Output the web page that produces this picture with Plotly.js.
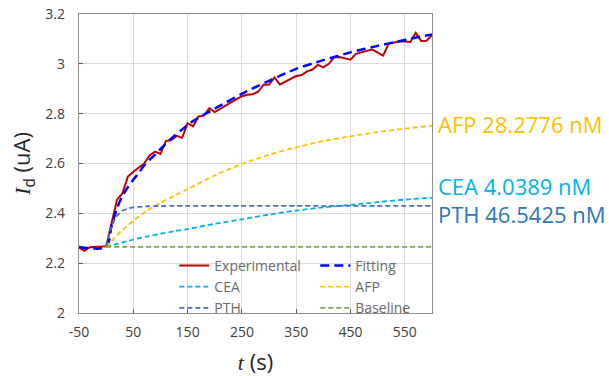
<!DOCTYPE html>
<html>
<head>
<meta charset="utf-8">
<script src="https://cdn.plot.ly/plotly-3.0.1.min.js"></script>
<style>
  html, body { margin: 0; padding: 0; background: #ffffff; }
  #chart { width: 609px; height: 376px; }
</style>
</head>
<body>
<div id="chart"></div>
<script>
// Measured drain current (uA) vs time (s)
const expTime = [-50, -40, -30, -20, -10, 0, 10, 20, 30, 40, 50, 60, 70, 80, 90, 100,
  110, 120, 130, 140, 150, 160, 170, 180, 190, 200, 210, 220, 230, 240, 250,
  260, 270, 280, 290, 300, 310, 320, 330, 340, 350, 360, 370, 380, 390, 400,
  410, 420, 430, 440, 450, 460, 470, 480, 490, 500, 510, 520, 530, 540, 550,
  560, 570, 580, 590, 600];
const expCurrent = [2.263, 2.250, 2.264, 2.266, 2.266, 2.268, 2.360, 2.455, 2.480, 2.548, 2.567,
  2.583, 2.600, 2.632, 2.648, 2.638, 2.690, 2.694, 2.711, 2.703, 2.762, 2.749,
  2.789, 2.792, 2.822, 2.806, 2.820, 2.834, 2.845, 2.858, 2.870, 2.876, 2.878,
  2.888, 2.916, 2.917, 2.946, 2.917, 2.928, 2.942, 2.951, 2.955, 2.970, 2.977,
  2.996, 2.986, 3.000, 3.026, 3.027, 3.022, 3.017, 3.040, 3.047, 3.052, 3.057,
  3.045, 3.033, 3.080, 3.085, 3.091, 3.090, 3.088, 3.124, 3.092, 3.093, 3.115];

// Fitted total response
const fitTime = [-50, 0, 10, 20, 30, 40, 50, 60, 70, 80, 90, 100, 120, 140, 160, 180,
  200, 250, 300, 350, 400, 450, 500, 550, 600];
const fitCurrent = [2.265, 2.265, 2.350, 2.420, 2.470, 2.505, 2.535, 2.562, 2.592, 2.615,
  2.636, 2.658, 2.700, 2.737, 2.770, 2.796, 2.820, 2.880, 2.932, 2.980, 3.015,
  3.046, 3.072, 3.096, 3.118];

// Individual analyte contributions
const cmpTime = [0, 10, 20, 30, 40, 50, 75, 100, 125, 150, 200, 250, 300, 350, 400,
  450, 500, 550, 600];
const ceaCurrent = [2.265, 2.271, 2.277, 2.283, 2.289, 2.295, 2.307, 2.318, 2.328, 2.337,
  2.358, 2.376, 2.395, 2.411, 2.424, 2.434, 2.445, 2.455, 2.463];
const afpCurrent = [2.265, 2.290, 2.312, 2.333, 2.352, 2.370, 2.410, 2.442, 2.470, 2.497,
  2.552, 2.598, 2.635, 2.665, 2.690, 2.709, 2.726, 2.740, 2.751];
const pthCurrent = [2.265, 2.345, 2.390, 2.410, 2.419, 2.424, 2.428, 2.429, 2.430, 2.430,
  2.430, 2.430, 2.430, 2.430, 2.430, 2.430, 2.430, 2.430, 2.430];
const baseTime = [0, 600];
const baseCurrent = [2.265, 2.265];

// Fitted concentrations shown at the right edge
const labelNames = ['AFP 28.2776 nM', 'CEA 4.0389 nM', 'PTH 46.5425 nM'];
const labelLevels = [2.757, 2.51, 2.397];

const tickVals = [-50, 50, 150, 250, 350, 450, 550];

const C = {
  exp: '#C00000', fit: '#0000FF', cea: '#00B0F0', afp: '#FFC000',
  pth: '#4472C4', base: '#70AD47', pthText: '#2E75B6'
};
const compDash = '5px,3px';

const traces = [
  { x: expTime, y: expCurrent, name: 'Experimental', mode: 'lines',
    line: { color: C.exp, width: 2 } },
  { x: fitTime, y: fitCurrent, name: 'Fitting', mode: 'lines',
    line: { color: C.fit, width: 2.5, dash: '9px,5px', shape: 'spline', smoothing: 0.8 } },
  { x: cmpTime, y: ceaCurrent, name: 'CEA', mode: 'lines',
    line: { color: C.cea, width: 1.8, dash: compDash, shape: 'spline', smoothing: 0.8 } },
  { x: cmpTime, y: afpCurrent, name: 'AFP', mode: 'lines',
    line: { color: C.afp, width: 1.8, dash: compDash, shape: 'spline', smoothing: 0.8 } },
  { x: cmpTime, y: pthCurrent, name: 'PTH', mode: 'lines',
    line: { color: C.pth, width: 1.8, dash: compDash, shape: 'spline', smoothing: 0.8 } },
  { x: baseTime, y: baseCurrent, name: 'Baseline', mode: 'lines',
    line: { color: C.base, width: 1.8, dash: compDash } }
];

const labelColors = [C.afp, C.cea, C.pthText];
const annotations = labelNames.map((t, i) => ({
  text: t, xref: 'paper', x: 1.01, xanchor: 'left',
  yref: 'y', y: labelLevels[i], yanchor: 'middle',
  showarrow: false,
  font: { family: 'Open Sans', size: 22, color: labelColors[i] }
}));

const tickFont = { family: 'Open Sans', size: 14, color: '#404040' };

const layout = {
  width: 609, height: 376,
  margin: { l: 79, r: 177, t: 14, b: 63 },
  paper_bgcolor: '#ffffff', plot_bgcolor: '#ffffff',
  font: { family: 'Open Sans' },
  showlegend: true,
  legend: {
    orientation: 'h', x: 0.27, xanchor: 'left', y: 0.211, yanchor: 'top',
    entrywidth: 96, bgcolor: 'rgba(0,0,0,0)', tracegroupgap: 0,
    font: { family: 'Open Sans', size: 14, color: '#6b6b6b' }
  },
  xaxis: {
    range: [-50, 600], tickvals: tickVals, ticktext: tickVals.map(String),
    showgrid: true, gridcolor: '#d9d9d9', gridwidth: 1, zeroline: false,
    showline: true, linecolor: '#8c8c8c', linewidth: 1.3, mirror: true,
    ticks: 'inside', ticklen: 4, tickcolor: '#595959',
    ticklabelstandoff: 6, tickfont: tickFont,
    title: { text: '<span style="font-family:Liberation Serif"><i>t</i></span> (s)',
      font: { family: 'Open Sans', size: 22, color: '#262626' }, standoff: 14 }
  },
  yaxis: {
    range: [2, 3.2], dtick: 0.2,
    showgrid: true, gridcolor: '#d9d9d9', gridwidth: 1, zeroline: false,
    showline: true, linecolor: '#8c8c8c', linewidth: 1.3, mirror: true,
    ticks: 'inside', ticklen: 4, tickcolor: '#595959',
    ticklabelstandoff: 10, tickfont: tickFont,
    title: { text: '<span style="font-family:Liberation Serif"><i>I</i></span><sub>d</sub> (uA)',
      font: { family: 'Open Sans', size: 22, color: '#262626' }, standoff: 8 }
  },
  annotations: annotations
};

Plotly.newPlot('chart', traces, layout, { staticPlot: true, displayModeBar: false });
</script>
</body>
</html>
